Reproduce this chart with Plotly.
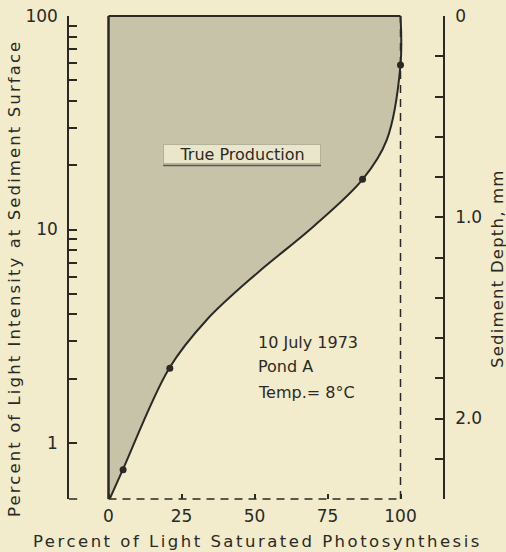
import plotly.graph_objects as go

# Measured points: % of light-saturated photosynthesis vs % of surface light
sat_pct = [5, 21, 87, 100]
light_pct = [0.75, 2.24, 17.2, 59]

# Smoothed response curve through the measurements
curve_sat = [0.5, 4.9, 20.8, 33.6, 50.8, 70.1, 87.1, 95.3, 100, 100]
curve_light = [0.55, 0.75, 2.24, 3.77, 6.23, 10.3, 17.2, 26.3, 59, 100]

# Axis ticks
x_ticks = [0, 25, 50, 75, 100]
light_ticks = [1, 2, 3, 4, 5, 6, 7, 8, 9, 10, 20, 30, 40, 50, 60, 70, 80, 90, 100]
light_labels = ["1", "", "", "", "", "", "", "", "", "10", "", "", "", "", "", "", "", "", "100"]
depth_ticks = [0, 0.2, 0.4, 0.6, 0.8, 1.0, 1.2, 1.4, 1.6, 1.8, 2.0, 2.2, 2.4]
depth_labels = ["0", "", "", "", "", "1.0", "", "", "", "", "2.0", "", ""]

PAPER = "#F2ECCC"
SHADE = "#C6C3A8"
INK = "#2A2925"
FONT = "DejaVu Sans"


def spaced(text, px):
    """Wide technical-lettering look via letter spacing."""
    return f'<span style="letter-spacing:{px}px">{text}</span>'


fig = go.Figure()

# Shaded "true production" area between the y axis (x = 0) and the curve
fig.add_trace(go.Scatter(
    x=curve_sat, y=curve_light, mode="lines", line_shape="spline",
    line=dict(color=INK, width=2), fill="tozerox", fillcolor=SHADE,
    hoverinfo="skip", showlegend=False,
))
fig.add_trace(go.Scatter(
    x=sat_pct, y=light_pct, mode="markers",
    marker=dict(color=INK, size=7), showlegend=False,
))
# Carrier for the sediment-depth axis
fig.add_trace(go.Scatter(x=[None], y=[None], yaxis="y2", showlegend=False))

shapes = [
    # left border of the shaded region
    dict(type="line", xref="x", yref="paper", x0=0, x1=0, y0=0, y1=1,
         line=dict(color=INK, width=2.5), layer="above"),
    # top border
    dict(type="line", xref="x", yref="paper", x0=0, x1=100, y0=1, y1=1,
         line=dict(color=INK, width=2), layer="above"),
    # dashed bottom and right edges
    dict(type="line", xref="x", yref="paper", x0=0, x1=100, y0=0, y1=0,
         line=dict(color=INK, width=1.5, dash="8px,6px"), layer="above"),
    dict(type="line", xref="x", yref="paper", x0=100, x1=100, y0=0, y1=1,
         line=dict(color=INK, width=1.5, dash="8px,6px"), layer="above"),
    # end cap at the bottom of the light-intensity axis
    dict(type="line", xref="paper", yref="paper", x0=0, x1=0.022, y0=0, y1=0,
         line=dict(color=INK, width=1.5)),
    # shadow under the label box
    dict(type="line", xref="x", yref="paper", x0=18.7, x1=72.8, y0=0.6905, y1=0.6905,
         line=dict(color="#5a5950", width=1.5), layer="above"),
]

text_font = dict(family=FONT, size=16, color=INK)
title_font = dict(family=FONT, size=16.5, color=INK)

annotations = [
    dict(text="True Production", xref="x", yref="paper", x=45.7, y=0.7145,
         xanchor="center", yanchor="middle", showarrow=False, font=text_font,
         bgcolor="#EAE6CC", bordercolor="rgba(150,148,128,0.55)", borderwidth=1,
         borderpad=2, width=152, height=14),
    dict(text="10 July 1973", xref="paper", yref="paper", x=(256 - 69) / 374,
         y=(499 - 342) / 483, xanchor="left", yanchor="middle", showarrow=False,
         font=text_font),
    dict(text="Pond A", xref="paper", yref="paper", x=(256 - 69) / 374,
         y=(499 - 367) / 483, xanchor="left", yanchor="middle", showarrow=False,
         font=text_font),
    dict(text="Temp.= 8°C", xref="paper", yref="paper", x=(256 - 69) / 374,
         y=(499 - 392) / 483, xanchor="left", yanchor="middle", showarrow=False,
         font=text_font),
    # axis titles
    dict(text=spaced("Percent of Light Intensity at Sediment Surface", 2.1),
         xref="paper", yref="paper", x=(14 - 69) / 374, y=(499 - 279) / 483,
         textangle=-90, xanchor="center", yanchor="middle", showarrow=False,
         font=title_font),
    dict(text=spaced("Sediment Depth, mm", 1.2), xref="paper", yref="paper",
         x=(497 - 69) / 374, y=(499 - 268) / 483, textangle=-90,
         xanchor="center", yanchor="middle", showarrow=False, font=title_font),
    dict(text=spaced("Percent of Light Saturated Photosynthesis", 2.5),
         xref="paper", yref="paper", x=(257 - 69) / 374, y=(499 - 541) / 483,
         xanchor="center", yanchor="middle", showarrow=False, font=title_font),
]

tick_font = dict(family=FONT, size=17, color=INK)

fig.update_layout(
    template="none",
    width=506, height=552,
    margin=dict(l=69, r=63, t=16, b=53, pad=0, autoexpand=False),
    paper_bgcolor=PAPER, plot_bgcolor=PAPER,
    showlegend=False,
    xaxis=dict(
        range=[-13.527, 114.555], tickvals=x_ticks, ticks="inside", ticklen=5,
        tickcolor=INK, tickwidth=1.5, showline=False, showgrid=False,
        zeroline=False, tickfont=tick_font, ticklabelstandoff=5, automargin=False,
    ),
    yaxis=dict(
        type="log", range=[-0.2623, 2], tickvals=light_ticks, ticktext=light_labels,
        ticks="inside", ticklen=8, tickcolor=INK, tickwidth=1.5,
        showline=True, linecolor=INK, linewidth=1.5, showgrid=False,
        zeroline=False, tickfont=tick_font, ticklabelstandoff=6, automargin=False,
    ),
    yaxis2=dict(
        overlaying="y", side="right", anchor="x", range=[2.4, 0],
        tickvals=depth_ticks, ticktext=depth_labels, ticks="inside", ticklen=8,
        tickcolor=INK, tickwidth=1.5, showline=True, linecolor=INK, linewidth=1.5,
        showgrid=False, zeroline=False, tickfont=tick_font, ticklabelstandoff=7,
        automargin=False,
    ),
    shapes=shapes,
    annotations=annotations,
)

fig.write_html("out.html")
